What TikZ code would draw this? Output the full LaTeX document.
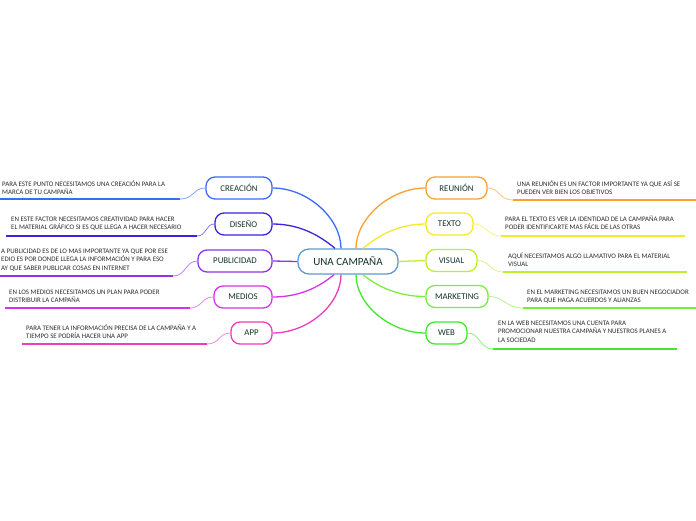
\documentclass[tikz,border=0pt]{standalone}
\usepackage{fontspec}
\setmainfont{Carlito}
\definecolor{ccre}{HTML}{3B6CF6}
\definecolor{cdis}{HTML}{3A24E0}
\definecolor{cpub}{HTML}{9033EA}
\definecolor{cmed}{HTML}{D633E8}
\definecolor{capp}{HTML}{EE3BBF}
\definecolor{creu}{HTML}{F7A231}
\definecolor{ctex}{HTML}{F5EA2A}
\definecolor{cvis}{HTML}{BDF02C}
\definecolor{cmar}{HTML}{78EE3C}
\definecolor{cweb}{HTML}{3FE92B}
\definecolor{ccen}{HTML}{5A9BD5}
\definecolor{ntext}{HTML}{12352A}
\definecolor{dtext}{HTML}{2B2B2B}
\tikzset{
  topic/.style={draw, line width=1.3pt, rounded corners=9pt, fill=white, minimum height=22pt,
    inner sep=0pt, text=ntext, font=\fontsize{8.8}{10}\selectfont},
  central/.style={draw=ccen, line width=1.3pt, rounded corners=11pt, fill=white, minimum height=25pt,
    minimum width=100pt, inner sep=0pt, text=ntext, font=\fontsize{11}{13}\selectfont},
  note/.style={anchor=north west, inner sep=0pt, align=left, text=dtext, font=\fontsize{6.9}{8.5}\selectfont},
  branch/.style={line width=1.3pt},
  uline/.style={line width=1.8pt},
  twig/.style={line width=0.8pt, draw opacity=0.6},
}
\newcommand{\tp}{\rule{0pt}{6.5pt}}
\begin{document}
\begin{tikzpicture}[x=1pt,y=-1pt]
\useasboundingbox (0,0) rectangle (696,520);

% central
\node[central] (c) at (348,261.5) {UNA CAMPAÑA};

% left topics
\node[topic, draw=ccre, minimum width=66pt] (cre) at (239,188) {CREACIÓN};
\node[topic, draw=cdis, minimum width=57pt] (dis) at (243.5,224) {DISEÑO};
\node[topic, draw=cpub, minimum width=74pt] (pub) at (235,261) {PUBLICIDAD};
\node[topic, draw=cmed, minimum width=58pt] (med) at (243,297) {MEDIOS};
\node[topic, draw=capp, minimum width=41pt] (app) at (251.5,333) {APP};

% right topics
\node[topic, draw=creu, minimum width=61pt] (reu) at (456.5,188) {REUNIÓN};
\node[topic, draw=ctex, minimum width=47pt] (tex) at (449.5,224) {TEXTO};
\node[topic, draw=cvis, minimum width=51pt] (vis) at (451.5,260.5) {VISUAL};
\node[topic, draw=cmar, minimum width=62pt] (mar) at (457,296.5) {MARKETING};
\node[topic, draw=cweb, minimum width=41pt] (web) at (446.5,333) {WEB};

% branches
\draw[branch, ccre] (cre.east) .. controls +(35,0) and +(0,-30) .. ([xshift=-7pt]c.north);
\draw[branch, cdis] (dis.east) .. controls +(30,0) and +(-12,-10) .. ([xshift=-13pt]c.north);
\draw[branch, cpub] (pub.east) -- (c.west);
\draw[branch, cmed] (med.east) .. controls +(30,0) and +(-12,10) .. ([xshift=-14pt]c.south);
\draw[branch, capp] (app.east) .. controls +(35,0) and +(0,30) .. ([xshift=-7pt]c.south);
\draw[branch, creu] (reu.west) .. controls +(-35,0) and +(0,-30) .. ([xshift=8pt]c.north);
\draw[branch, ctex] (tex.west) .. controls +(-30,0) and +(12,-10) .. ([xshift=15pt]c.north);
\draw[branch, cvis] (vis.west) -- (c.east);
\draw[branch, cmar] (mar.west) .. controls +(-30,0) and +(12,10) .. ([xshift=15pt]c.south);
\draw[branch, cweb] (web.west) .. controls +(-35,0) and +(0,30) .. ([xshift=8pt]c.south);

% left notes
\coordinate (creA) at (0,199);   \coordinate (creB) at (180,199);
\coordinate (disA) at (6,236);   \coordinate (disB) at (197,236);
\coordinate (pubA) at (0,276);   \coordinate (pubB) at (173,276);
\coordinate (medA) at (5,308);   \coordinate (medB) at (190,308);
\coordinate (appA) at (22,344);  \coordinate (appB) at (207,344);

\draw[uline, ccre] (creA) -- (creB);
\draw[uline, cdis] (disA) -- (disB);
\draw[uline, cpub] (pubA) -- (pubB);
\draw[uline, cmed] (medA) -- (medB);
\draw[uline, capp] (appA) -- (appB);
\draw[twig, ccre] (creB) .. controls +(14,0) and +(-12,0) .. (cre.west);
\draw[twig, cdis] (disB) .. controls +(10,0) and +(-9,0) .. (dis.west);
\draw[twig, cpub] (pubB) .. controls +(13,0) and +(-12,0) .. (pub.west);
\draw[twig, cmed] (medB) .. controls +(12,0) and +(-12,0) .. (med.west);
\draw[twig, capp] (appB) .. controls +(13,0) and +(-12,0) .. (app.west);

\node[note] (ncre) at (2,179.7) {\tp PARA ESTE PUNTO NECESITAMOS UNA CREACIÓN PARA LA\\MARCA DE TU CAMPAÑA};
\node[note] (ndis) at (11,214.7) {\tp EN ESTE FACTOR NECESITAMOS CREATIVIDAD PARA HACER\\EL MATERIAL GRÁFICO SI ES QUE LLEGA A HACER NECESARIO};
\node[note] (npub) at (1,246.7) {\tp A PUBLICIDAD ES DE LO MAS IMPORTANTE YA QUE POR ESE\\EDIO ES POR DONDE LLEGA LA INFORMACIÓN Y PARA ESO\\AY QUE SABER PUBLICAR COSAS EN INTERNET};
\node[note] (nmed) at (9,287.7) {\tp EN LOS MEDIOS NECESITAMOS UN PLAN PARA PODER\\DISTRIBUIR LA CAMPAÑA};
\node[note] (napp) at (26,323.7) {\tp PARA TENER LA INFORMACIÓN PRECISA DE LA CAMPAÑA Y A\\TIEMPO SE PODRÍA HACER UNA APP};

% right notes
\coordinate (reuA) at (513,200); \coordinate (reuB) at (696,200);
\coordinate (texA) at (501,236); \coordinate (texB) at (685,236);
\coordinate (visA) at (503,272); \coordinate (visB) at (687,272);
\coordinate (marA) at (523,308); \coordinate (marB) at (696,308);
\coordinate (webA) at (493,349); \coordinate (webB) at (677,349);

\draw[uline, creu] (reuA) -- (reuB);
\draw[uline, ctex] (texA) -- (texB);
\draw[uline, cvis] (visA) -- (visB);
\draw[uline, cmar] (marA) -- (marB);
\draw[uline, cweb] (webA) -- (webB);
\draw[twig, creu] (reu.east) .. controls +(12,0) and +(-14,0) .. (reuA);
\draw[twig, ctex] (tex.east) .. controls +(13,0) and +(-14,0) .. (texA);
\draw[twig, cvis] (vis.east) .. controls +(12,0) and +(-13,0) .. (visA);
\draw[twig, cmar] (mar.east) .. controls +(16,0) and +(-18,0) .. (marA);
\draw[twig, cweb] (web.east) .. controls +(12,0) and +(-13,0) .. (webA);

\node[note] (nreu) at (517,179.7) {\tp UNA REUNIÓN ES UN FACTOR IMPORTANTE YA QUE ASÍ SE\\PUEDEN VER BIEN LOS OBJETIVOS};
\node[note] (ntex) at (505,214.7) {\tp PARA EL TEXTO ES VER LA IDENTIDAD DE LA CAMPAÑA PARA\\PODER IDENTIFICARTE MAS FÁCIL DE LAS OTRAS};
\node[note] (nvis) at (508,251.7) {\tp AQUÍ NECESITAMOS ALGO LLAMATIVO PARA EL MATERIAL\\VISUAL};
\node[note] (nmar) at (527,287.7) {\tp EN EL MARKETING NECESITAMOS UN BUEN NEGOCIADOR\\PARA QUE HAGA ACUERDOS Y ALIANZAS};
\node[note] (nweb) at (498,318.7) {\tp EN LA WEB NECESITAMOS UNA CUENTA PARA\\PROMOCIONAR NUESTRA CAMPAÑA Y NUESTROS PLANES A\\LA SOCIEDAD};
\end{tikzpicture}
\end{document}
